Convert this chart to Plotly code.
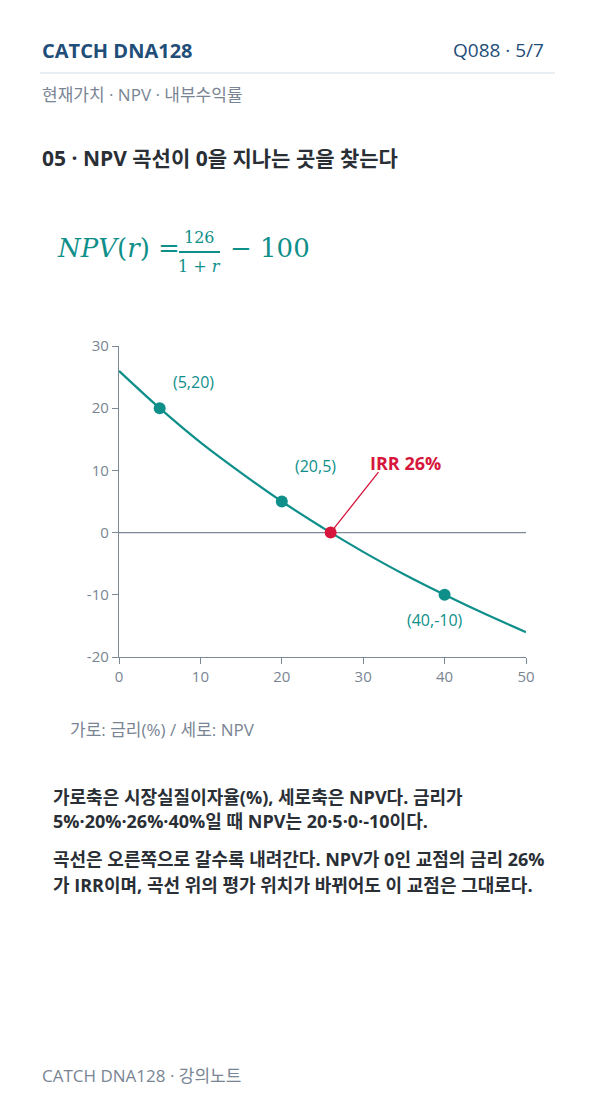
import plotly.graph_objects as go

W, H = 596, 1106

# NPV curve (rate %, NPV)
rates = [0, 5, 10, 15, 20, 25, 26, 30, 35, 40, 45, 50]
npv = [26, 20, 14.5, 9.6, 5, 0.8, 0, -3.1, -6.7, -10, -13.1, -16]
pointRates = [5, 20, 40]
pointNpv = [20, 5, -10]
pointLabels = ['(5,20)', '(20,5)', '(40,-10)']
irrRate = [26]
irrNpv = [0]
xTicks = [0, 10, 20, 30, 40, 50]
yTicks = [-20, -10, 0, 10, 20, 30]

teal = '#0e8f8a'
red = '#d6163c'
navy = '#1f4e79'
grey = '#7a8594'
axisGrey = '#7d8896'
font = 'Open Sans, Noto Sans CJK KR'


def px(x):
    return x / W


def py(y):
    return 1 - y / H


fig = go.Figure()
fig.add_trace(go.Scatter(x=rates, y=npv, mode='lines', line=dict(color=teal, width=2.2, shape='spline'),
                         hoverinfo='skip'))
fig.add_trace(go.Scatter(x=pointRates, y=pointNpv, mode='markers', marker=dict(color=teal, size=12)))
fig.add_trace(go.Scatter(x=irrRate, y=irrNpv, mode='markers', marker=dict(color=red, size=12)))

# point labels
offsets = [(34, -26), (34, -36), (-10, 25)]
for r, v, t, (dx, dy) in zip(pointRates, pointNpv, pointLabels, offsets):
    fig.add_annotation(x=r, y=v, text=t, showarrow=False, xshift=dx, yshift=-dy,
                       font=dict(color=teal, size=16, family=font))
fig.add_annotation(x=irrRate[0], y=irrNpv[0], ax=49, ay=-62, text='', showarrow=True,
                   arrowhead=0, arrowcolor=red, arrowwidth=1.3, standoff=5)
fig.add_annotation(x=irrRate[0], y=irrNpv[0], text='<b>IRR 26%</b>', showarrow=False,
                   xshift=37, yshift=70, xanchor='left',
                   font=dict(color=red, size=18, family=font))

# page texts
texts = [
    (40, 50, '<b>CATCH DNA128</b>', 20, navy, 'left'),
    (546, 50, 'Q088 · 5/7', 19, navy, 'right'),
    (40, 95, '현재가치 · NPV · 내부수익률', 17, grey, 'left'),
    (40, 158, '<b>05 · NPV 곡선이 0을 지나는 곳을 찾는다</b>', 21, '#2a2f36', 'left'),
    (68, 729, '가로: 금리(%) / 세로: NPV', 17, grey, 'left'),
    (51, 797, '<b>가로축은 시장실질이자율(%), 세로축은 NPV다. 금리가</b>', 18, '#2a2f36', 'left'),
    (51, 821, '<b>5%·20%·26%·40%일 때 NPV는 20·5·0·-10이다.</b>', 18, '#2a2f36', 'left'),
    (51, 859, '<b>곡선은 오른쪽으로 갈수록 내려간다. NPV가 0인 교점의 금리 26%</b>', 18, '#2a2f36', 'left'),
    (51, 885, '<b>가 IRR이며, 곡선 위의 평가 위치가 바뀌어도 이 교점은 그대로다.</b>', 18, '#2a2f36', 'left'),
    (40, 1075, 'CATCH DNA128 · 강의노트', 17, grey, 'left'),
]
for x, y, t, s, c, a in texts:
    fig.add_annotation(xref='paper', yref='paper', x=px(x), y=py(y), text=t, showarrow=False,
                       xanchor=a, yanchor='middle', font=dict(size=s, color=c, family=font))

# formula
serif = 'DejaVu Serif'
fig.add_annotation(xref='paper', yref='paper', x=px(55), y=py(248), text='<i>NPV</i>(<i>r</i>) =',
                   showarrow=False, xanchor='left', yanchor='middle',
                   font=dict(size=26, color=teal, family=serif))
fig.add_annotation(xref='paper', yref='paper', x=px(199), y=py(249), text='126',
                   showarrow=False, yanchor='bottom', font=dict(size=16, color=teal, family=serif))
fig.add_annotation(xref='paper', yref='paper', x=px(199), y=py(255), text='1 + <i>r</i>',
                   showarrow=False, yanchor='top', font=dict(size=16, color=teal, family=serif))
fig.add_annotation(xref='paper', yref='paper', x=px(228), y=py(248), text='− 100',
                   showarrow=False, xanchor='left', yanchor='middle',
                   font=dict(size=26, color=teal, family=serif))
# fraction bar
fig.add_shape(type='line', xref='paper', yref='paper', x0=px(179), x1=px(220), y0=py(252), y1=py(252),
              line=dict(color=teal, width=2), layer='above')

# header rule and zero line
fig.add_shape(type='line', xref='paper', yref='paper', x0=px(40), x1=px(555), y0=py(73), y1=py(73),
              line=dict(color='#d3dde8', width=1))
fig.add_hline(y=0, line=dict(color=axisGrey, width=1.3), layer='below')

fig.update_layout(
    width=W, height=H, margin=dict(l=0, r=0, t=0, b=0, autoexpand=False), showlegend=False,
    paper_bgcolor='white', plot_bgcolor='white',
    xaxis=dict(domain=[px(119), px(526)], range=[0, 50], tickvals=xTicks,
               ticktext=[str(v) for v in xTicks],
               showgrid=False, zeroline=False, showline=True, linecolor=axisGrey, linewidth=1.3,
               ticks='outside', ticklen=6, tickcolor=axisGrey,
               tickfont=dict(size=15, color=grey, family=font)),
    yaxis=dict(domain=[py(657), py(346)], range=[-20, 30], tickvals=yTicks,
               ticktext=[str(v) for v in yTicks],
               showgrid=False, zeroline=False, showline=True, linecolor=axisGrey, linewidth=1.3,
               ticks='outside', ticklen=6, tickcolor=axisGrey,
               tickfont=dict(size=15, color=grey, family=font)),
)

fig.write_html('out.html', config={'displayModeBar': False},
               post_script="document.body.style.margin='0';")
